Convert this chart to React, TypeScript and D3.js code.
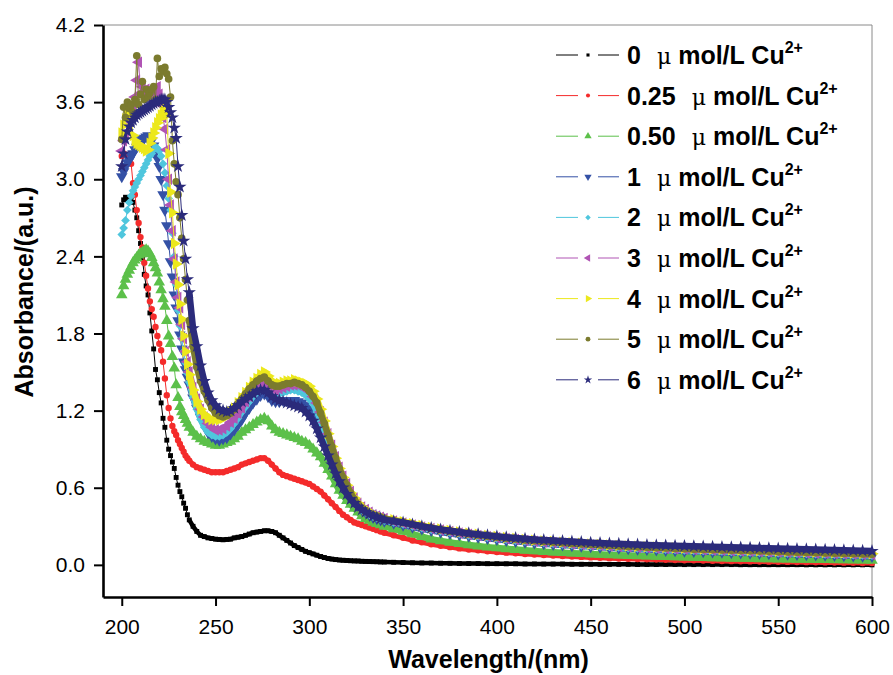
import React, { useRef, useEffect } from "react";
import * as d3 from "d3";

const WIDTH = 893;
const HEIGHT = 675;

// sampling grid: 1 nm in the peak region, 2 nm up to 340 nm, 5 nm in the tail
const wavelengths = [
  ...d3.range(200, 237, 1),
  ...d3.range(238, 341, 2),
  ...d3.range(345, 601, 5),
];

const xTicks = [200, 250, 300, 350, 400, 450, 500, 550, 600];
const yTicks = [0, 0.6, 1.2, 1.8, 2.4, 3.0, 3.6, 4.2];

const labels = ["0", "0.25", "0.50", "1", "2", "3", "4", "5", "6"];
const colors = [
  "#000000",
  "#f42b2b",
  "#5cc04a",
  "#3451a6",
  "#4fc6dd",
  "#b054b4",
  "#ece81c",
  "#7b7b2e",
  "#2b2b7b",
];

// 0 umol/L
const abs0 = [
  2.80, 2.84, 2.86, 2.85, 2.83, 2.86, 2.82, 2.76, 2.70, 2.60,
  2.50, 2.38, 2.26, 2.17, 2.10, 1.96, 1.82, 1.68, 1.52, 1.44,
  1.34, 1.26, 1.14, 1.07, 0.97, 0.90, 0.85, 0.80, 0.75, 0.68,
  0.62, 0.57, 0.53, 0.48, 0.44, 0.39, 0.35,
  0.30, 0.26, 0.23, 0.22, 0.21, 0.205, 0.20, 0.198, 0.195, 0.198,
  0.20, 0.21, 0.215, 0.22, 0.23, 0.24, 0.25, 0.255, 0.26, 0.265,
  0.265, 0.26, 0.25, 0.23, 0.21, 0.19, 0.17, 0.15, 0.135, 0.12,
  0.105, 0.095, 0.085, 0.075, 0.065, 0.057, 0.05, 0.045, 0.041, 0.038,
  0.036, 0.034, 0.032, 0.031, 0.03, 0.028, 0.027, 0.026, 0.025, 0.024,
  0.023, 0.022,
  0.02, 0.018, 0.016, 0.015, 0.014, 0.013, 0.012, 0.011, 0.01, 0.01,
  0.009, 0.009, 0.008, 0.008, 0.007, 0.007, 0.006, 0.006, 0.006, 0.005,
  0.005, 0.005, 0.004, 0.004, 0.004, 0.004, 0.003, 0.003, 0.003, 0.003,
  0.003, 0.002, 0.002, 0.002, 0.002, 0.002, 0.002, 0.001, 0.001, 0.001,
  0.001, 0.001, 0.001, 0.001, 0, 0, 0, 0, 0, 0,
  0, 0,
];

// 0.25 umol/L
const abs1 = [
  3.18, 3.20, 3.19, 3.18, 3.17, 3.12, 2.97, 2.88, 2.76, 2.66,
  2.55, 2.47, 2.35, 2.25, 2.15, 2.05, 1.99, 1.93, 1.85, 1.78,
  1.72, 1.67, 1.58, 1.45, 1.32, 1.22, 1.14, 1.08, 1.04, 1.01,
  0.97, 0.94, 0.91, 0.88, 0.85, 0.83, 0.81,
  0.78, 0.76, 0.75, 0.74, 0.73, 0.72, 0.72, 0.72, 0.72, 0.73,
  0.74, 0.75, 0.76, 0.78, 0.79, 0.80, 0.81, 0.82, 0.83, 0.83,
  0.81, 0.78, 0.75, 0.72, 0.70, 0.69, 0.68, 0.67, 0.66, 0.65,
  0.64, 0.63, 0.61, 0.59, 0.57, 0.54, 0.51, 0.48, 0.45, 0.42,
  0.39, 0.37, 0.35, 0.33, 0.32, 0.31, 0.30, 0.29, 0.28, 0.27,
  0.26, 0.25,
  0.23, 0.21, 0.19, 0.175, 0.16, 0.148, 0.138, 0.128, 0.12, 0.113,
  0.106, 0.10, 0.095, 0.09, 0.085, 0.08, 0.076, 0.072, 0.068, 0.065,
  0.062, 0.058, 0.055, 0.052, 0.05, 0.048, 0.046, 0.044, 0.042, 0.04,
  0.038, 0.036, 0.035, 0.033, 0.032, 0.03, 0.029, 0.028, 0.027, 0.026,
  0.025, 0.024, 0.023, 0.022, 0.021, 0.02, 0.019, 0.018, 0.017, 0.016,
  0.015, 0.014,
];

// 0.50 umol/L
const abs2 = [
  2.10, 2.17, 2.22, 2.26, 2.29, 2.32, 2.35, 2.37, 2.39, 2.41,
  2.42, 2.43, 2.44, 2.45, 2.44, 2.42, 2.39, 2.35, 2.31, 2.27,
  2.20, 2.14, 2.07, 2.01, 1.90, 1.78, 1.72, 1.62, 1.53, 1.40,
  1.30, 1.23, 1.19, 1.16, 1.13, 1.10, 1.07,
  1.03, 1.00, 0.98, 0.96, 0.95, 0.94, 0.93, 0.93, 0.94, 0.95,
  0.96, 0.98, 1.00, 1.03, 1.05, 1.07, 1.09, 1.11, 1.13, 1.14,
  1.12, 1.08, 1.05, 1.03, 1.02, 1.01, 1.00, 0.99, 0.98, 0.96,
  0.95, 0.93, 0.90, 0.87, 0.84, 0.79, 0.74, 0.69, 0.63, 0.58,
  0.54, 0.50, 0.47, 0.44, 0.41, 0.38, 0.36, 0.345, 0.33, 0.32,
  0.31, 0.30,
  0.28, 0.26, 0.24, 0.22, 0.20, 0.187, 0.175, 0.165, 0.155, 0.146,
  0.138, 0.131, 0.125, 0.119, 0.113, 0.108, 0.103, 0.099, 0.095, 0.091,
  0.088, 0.084, 0.081, 0.078, 0.075, 0.072, 0.07, 0.068, 0.066, 0.064,
  0.062, 0.06, 0.058, 0.056, 0.054, 0.053, 0.051, 0.05, 0.048, 0.047,
  0.046, 0.045, 0.044, 0.043, 0.042, 0.041, 0.04, 0.039, 0.038, 0.037,
  0.036, 0.035,
];

// 1 umol/L
const abs3 = [
  3.02, 3.06, 3.10, 3.13, 3.15, 3.18, 3.20, 3.23, 3.25, 3.27,
  3.30, 3.31, 3.32, 3.33, 3.34, 3.33, 3.30, 3.26, 3.21, 3.16,
  3.10, 3.00, 2.88, 2.76, 2.64, 2.50, 2.36, 2.24, 2.10, 2.00,
  1.90, 1.79, 1.68, 1.58, 1.52, 1.46, 1.40,
  1.30, 1.22, 1.15, 1.09, 1.03, 1.00, 0.98, 0.97, 0.98, 0.99,
  1.02, 1.05, 1.09, 1.13, 1.18, 1.22, 1.26, 1.29, 1.32, 1.33,
  1.31, 1.28, 1.27, 1.27, 1.28, 1.28, 1.28, 1.28, 1.27, 1.26,
  1.24, 1.21, 1.17, 1.12, 1.06, 0.99, 0.92, 0.84, 0.77, 0.70,
  0.64, 0.58, 0.53, 0.49, 0.46, 0.43, 0.41, 0.39, 0.37, 0.36,
  0.35, 0.34,
  0.325, 0.31, 0.295, 0.281, 0.268, 0.256, 0.245, 0.235, 0.225, 0.216,
  0.207, 0.199, 0.191, 0.184, 0.177, 0.171, 0.165, 0.16, 0.155, 0.15,
  0.146, 0.142, 0.138, 0.134, 0.13, 0.126, 0.123, 0.12, 0.117, 0.114,
  0.111, 0.108, 0.105, 0.103, 0.101, 0.099, 0.096, 0.094, 0.092, 0.09,
  0.088, 0.086, 0.084, 0.082, 0.08, 0.078, 0.076, 0.074, 0.072, 0.07,
  0.068, 0.066,
];

// 2 umol/L
const abs4 = [
  2.57, 2.62, 2.68, 2.76, 2.82, 2.87, 2.91, 2.94, 2.97, 3.00,
  3.03, 3.06, 3.09, 3.12, 3.15, 3.18, 3.20, 3.23, 3.25, 3.24,
  3.22, 3.18, 3.12, 3.05, 2.95, 2.85, 2.76, 2.58, 2.40, 2.18,
  1.98, 1.86, 1.76, 1.66, 1.57, 1.49, 1.42,
  1.30, 1.21, 1.13, 1.07, 1.03, 1.01, 1.00, 1.00, 1.01, 1.03,
  1.06, 1.10, 1.14, 1.19, 1.23, 1.27, 1.31, 1.34, 1.37, 1.38,
  1.36, 1.33, 1.32, 1.33, 1.34, 1.35, 1.36, 1.36, 1.35, 1.34,
  1.32, 1.29, 1.25, 1.19, 1.12, 1.04, 0.95, 0.86, 0.78, 0.71,
  0.64, 0.58, 0.53, 0.49, 0.46, 0.43, 0.41, 0.39, 0.375, 0.365,
  0.355, 0.345,
  0.33, 0.315, 0.30, 0.286, 0.273, 0.261, 0.25, 0.24, 0.23, 0.221,
  0.212, 0.204, 0.196, 0.189, 0.182, 0.176, 0.17, 0.165, 0.16, 0.155,
  0.151, 0.147, 0.143, 0.139, 0.135, 0.131, 0.128, 0.125, 0.122, 0.119,
  0.116, 0.113, 0.11, 0.108, 0.106, 0.104, 0.101, 0.099, 0.097, 0.095,
  0.093, 0.091, 0.089, 0.087, 0.085, 0.083, 0.081, 0.079, 0.077, 0.075,
  0.073, 0.071,
];

// 3 umol/L
const abs5 = [
  3.22, 3.30, 3.36, 3.42, 3.47, 3.52, 3.58, 3.64, 3.77, 3.91,
  3.67, 3.72, 3.66, 3.70, 3.64, 3.68, 3.66, 3.70, 3.71, 3.72,
  3.66, 3.58, 3.48, 3.39, 3.23, 3.00, 2.80, 2.60, 2.38, 2.20,
  2.08, 2.00, 1.87, 1.76, 1.66, 1.58, 1.50,
  1.38, 1.29, 1.21, 1.15, 1.10, 1.07, 1.05, 1.05, 1.06, 1.08,
  1.11, 1.14, 1.18, 1.22, 1.27, 1.31, 1.35, 1.38, 1.41, 1.42,
  1.40, 1.37, 1.36, 1.37, 1.38, 1.39, 1.40, 1.40, 1.40, 1.39,
  1.37, 1.35, 1.31, 1.26, 1.19, 1.11, 1.02, 0.93, 0.84, 0.76,
  0.69, 0.63, 0.57, 0.52, 0.48, 0.45, 0.43, 0.41, 0.39, 0.38,
  0.37, 0.36,
  0.34, 0.325, 0.31, 0.295, 0.282, 0.27, 0.259, 0.248, 0.238, 0.229,
  0.22, 0.212, 0.204, 0.197, 0.19, 0.184, 0.178, 0.173, 0.168, 0.163,
  0.159, 0.155, 0.151, 0.147, 0.143, 0.139, 0.136, 0.133, 0.13, 0.127,
  0.124, 0.121, 0.118, 0.116, 0.114, 0.112, 0.109, 0.107, 0.105, 0.103,
  0.101, 0.099, 0.097, 0.095, 0.093, 0.091, 0.089, 0.087, 0.085, 0.083,
  0.081, 0.079,
];

// 4 umol/L
const abs6 = [
  3.36, 3.42, 3.47, 3.50, 3.53, 3.50, 3.34, 3.30, 3.28, 3.27,
  3.26, 3.25, 3.24, 3.22, 3.23, 3.28, 3.32, 3.36, 3.40, 3.44,
  3.47, 3.50, 3.53, 3.55, 3.50, 3.20, 2.90, 2.74, 2.50, 2.34,
  2.18, 2.03, 1.91, 1.78, 1.66, 1.56, 1.48,
  1.36, 1.27, 1.21, 1.17, 1.14, 1.13, 1.13, 1.13, 1.14, 1.16,
  1.19, 1.22, 1.26, 1.30, 1.34, 1.38, 1.42, 1.45, 1.48, 1.50,
  1.47, 1.43, 1.41, 1.41, 1.42, 1.43, 1.43, 1.44, 1.43, 1.42,
  1.41, 1.39, 1.35, 1.29, 1.21, 1.12, 1.02, 0.92, 0.83, 0.75,
  0.68, 0.62, 0.56, 0.52, 0.48, 0.45, 0.43, 0.41, 0.395, 0.38,
  0.37, 0.36,
  0.35, 0.335, 0.32, 0.305, 0.29, 0.278, 0.267, 0.256, 0.246, 0.237,
  0.228, 0.22, 0.212, 0.205, 0.198, 0.192, 0.186, 0.181, 0.176, 0.171,
  0.167, 0.163, 0.159, 0.155, 0.151, 0.147, 0.144, 0.141, 0.138, 0.135,
  0.132, 0.129, 0.126, 0.123, 0.121, 0.119, 0.117, 0.114, 0.112, 0.11,
  0.108, 0.106, 0.104, 0.102, 0.1, 0.098, 0.096, 0.094, 0.092, 0.09,
  0.088, 0.086,
];

// 5 umol/L
const abs7 = [
  3.31, 3.56, 3.48, 3.60, 3.55, 3.58, 3.52, 3.62, 3.96, 3.58,
  3.66, 3.76, 3.62, 3.70, 3.64, 3.67, 3.70, 3.72, 3.62, 3.94,
  3.80, 3.86, 3.84, 3.87, 3.82, 3.78, 3.64, 3.30, 3.12, 2.98,
  2.88, 2.70, 2.54, 2.38, 2.22, 2.06, 1.90,
  1.70, 1.54, 1.43, 1.35, 1.28, 1.22, 1.18, 1.16, 1.15, 1.16,
  1.18, 1.21, 1.25, 1.29, 1.33, 1.37, 1.40, 1.43, 1.45, 1.46,
  1.43, 1.40, 1.39, 1.39, 1.40, 1.41, 1.41, 1.42, 1.41, 1.40,
  1.38, 1.35, 1.31, 1.26, 1.18, 1.10, 1.01, 0.92, 0.83, 0.75,
  0.68, 0.62, 0.56, 0.51, 0.47, 0.44, 0.42, 0.40, 0.39, 0.38,
  0.37, 0.36,
  0.345, 0.33, 0.315, 0.30, 0.286, 0.274, 0.263, 0.252, 0.242, 0.233,
  0.224, 0.216, 0.208, 0.201, 0.194, 0.188, 0.182, 0.177, 0.172, 0.167,
  0.163, 0.159, 0.155, 0.151, 0.147, 0.143, 0.14, 0.137, 0.134, 0.131,
  0.128, 0.125, 0.122, 0.12, 0.118, 0.116, 0.113, 0.111, 0.109, 0.107,
  0.105, 0.103, 0.101, 0.099, 0.097, 0.095, 0.093, 0.091, 0.089, 0.087,
  0.085, 0.083,
];

// 6 umol/L
const abs8 = [
  3.10, 3.20, 3.31, 3.37, 3.41, 3.44, 3.46, 3.48, 3.50, 3.51,
  3.52, 3.53, 3.54, 3.55, 3.56, 3.57, 3.58, 3.59, 3.60, 3.60,
  3.61, 3.62, 3.62, 3.62, 3.60, 3.56, 3.52, 3.48, 3.40, 3.32,
  3.10, 2.94, 2.72, 2.52, 2.38, 2.22, 2.12,
  1.84, 1.70, 1.55, 1.43, 1.34, 1.28, 1.24, 1.21, 1.20, 1.19,
  1.20, 1.22, 1.24, 1.27, 1.29, 1.31, 1.33, 1.35, 1.36, 1.36,
  1.34, 1.31, 1.29, 1.28, 1.27, 1.26, 1.25, 1.24, 1.23, 1.22,
  1.19, 1.16, 1.12, 1.06, 0.99, 0.92, 0.85, 0.78, 0.71, 0.65,
  0.60, 0.55, 0.51, 0.48, 0.45, 0.43, 0.41, 0.395, 0.38, 0.37,
  0.36, 0.35,
  0.34, 0.33, 0.315, 0.30, 0.287, 0.276, 0.265, 0.255, 0.246, 0.238,
  0.23, 0.222, 0.215, 0.209, 0.203, 0.198, 0.193, 0.189, 0.185, 0.181,
  0.177, 0.173, 0.17, 0.167, 0.164, 0.161, 0.158, 0.155, 0.153, 0.151,
  0.149, 0.147, 0.145, 0.143, 0.141, 0.139, 0.137, 0.135, 0.133, 0.131,
  0.129, 0.127, 0.125, 0.123, 0.121, 0.119, 0.117, 0.115, 0.113, 0.111,
  0.109, 0.107,
];

const seriesValues = [abs0, abs1, abs2, abs3, abs4, abs5, abs6, abs7, abs8];

// marker type, size in the plot, rotation, width of the dense-marker band
const markers = [
  { type: d3.symbolSquare, size: 24, rot: 0, band: 4.5 },
  { type: d3.symbolCircle, size: 32, rot: 0, band: 5 },
  { type: d3.symbolTriangle, size: 58, rot: 0, band: 6.5 },
  { type: d3.symbolTriangle, size: 58, rot: 180, band: 6.5 },
  { type: d3.symbolSquare, size: 38, rot: 45, band: 6 },
  { type: d3.symbolTriangle, size: 58, rot: -90, band: 6.5 },
  { type: d3.symbolTriangle, size: 58, rot: 90, band: 6.5 },
  { type: d3.symbolCircle, size: 46, rot: 0, band: 6.5 },
  { type: d3.symbolStar, size: 55, rot: 0, band: 6.5 },
];

const FONT = "'Liberation Sans', Arial, sans-serif";

const Chart = () => {
  const ref = useRef(null);

  useEffect(() => {
    const svg = d3.select(ref.current);
    svg.selectAll("*").remove();

    const left = 103;
    const right = 872;
    const top = 25;
    const bottom = 597;

    const xScale = d3.scaleLinear().domain([190, 600]).range([left, right]);
    const yScale = d3.scaleLinear().domain([-0.25, 4.2]).range([bottom, top]);

    // thin frame on top and right
    svg.append("path")
      .attr("d", `M${left},${top}H${right}V${bottom}`)
      .attr("fill", "none")
      .attr("stroke", "#8a8a8a")
      .attr("stroke-width", 1);

    const lineGen = d3.line()
      .x((d) => xScale(d[0]))
      .y((d) => yScale(d[1]));

    // curves, drawn in legend order so later series sit on top
    seriesValues.forEach((vals, i) => {
      const pts = wavelengths.map((w, k) => [w, vals[k]]);
      const m = markers[i];
      const g = svg.append("g");
      g.append("path")
        .datum(pts)
        .attr("fill", "none")
        .attr("stroke", colors[i])
        .attr("stroke-width", 1)
        .attr("d", lineGen);
      // the original's 1 nm markers merge into a solid band on the smooth part
      g.append("path")
        .datum(pts.filter((d) => d[0] >= 236))
        .attr("fill", "none")
        .attr("stroke", colors[i])
        .attr("stroke-width", m.band)
        .attr("stroke-linejoin", "round")
        .attr("d", lineGen);
      const sym = d3.symbol().type(m.type).size(m.size)();
      g.selectAll("path.mk")
        .data(pts)
        .join("path")
        .attr("class", "mk")
        .attr("d", sym)
        .attr("fill", colors[i])
        .attr(
          "transform",
          (d) => `translate(${xScale(d[0])},${yScale(d[1])}) rotate(${m.rot})`
        );
    });

    // axes
    const xAxis = d3.axisBottom(xScale)
      .tickValues(xTicks)
      .tickSize(9)
      .tickSizeOuter(0)
      .tickPadding(13);
    const yAxis = d3.axisLeft(yScale)
      .tickValues(yTicks)
      .tickFormat(d3.format(".1f"))
      .tickSize(9)
      .tickSizeOuter(0)
      .tickPadding(9);

    const gx = svg.append("g")
      .attr("transform", `translate(0,${bottom})`)
      .call(xAxis);
    const gy = svg.append("g")
      .attr("transform", `translate(${left},0)`)
      .call(yAxis);

    [gx, gy].forEach((g) => {
      g.select(".domain").attr("stroke", "#000").attr("stroke-width", 2.6);
      g.selectAll(".tick line").attr("stroke", "#000").attr("stroke-width", 2);
      g.selectAll(".tick text")
        .attr("fill", "#000")
        .style("font-family", FONT)
        .style("font-size", "21px");
    });

    // axis titles
    svg.append("text")
      .attr("x", (left + right) / 2 + 1)
      .attr("y", 668)
      .attr("text-anchor", "middle")
      .style("font-family", FONT)
      .style("font-weight", "bold")
      .style("font-size", "25px")
      .text("Wavelength/(nm)");

    svg.append("text")
      .attr("transform", "rotate(-90)")
      .attr("x", -292)
      .attr("y", 33)
      .attr("text-anchor", "middle")
      .style("font-family", FONT)
      .style("font-weight", "bold")
      .style("font-size", "25px")
      .text("Absorbance/(a.u.)");

    // legend
    const legend = svg.append("g");
    labels.forEach((lab, i) => {
      const yy = 55 + i * 40.6;
      const row = legend.append("g");
      row.append("line")
        .attr("x1", 556).attr("x2", 578)
        .attr("y1", yy).attr("y2", yy)
        .attr("stroke", colors[i]).attr("stroke-width", 1);
      row.append("line")
        .attr("x1", 598).attr("x2", 619)
        .attr("y1", yy).attr("y2", yy)
        .attr("stroke", colors[i]).attr("stroke-width", 1);
      const m = markers[i];
      row.append("path")
        .attr("d", d3.symbol().type(m.type).size(m.size * 0.4)())
        .attr("fill", colors[i])
        .attr("transform", `translate(588,${yy}) rotate(${m.rot})`);

      const t = row.append("text")
        .attr("x", 627)
        .attr("y", yy + 9)
        .style("white-space", "pre")
        .style("font-family", FONT)
        .style("font-weight", "bold")
        .style("font-size", "25px")
        .attr("fill", "#000");
      t.append("tspan").text(lab);
      t.append("tspan")
        .attr("dx", 16)
        .style("font-family", "'DejaVu Serif', serif")
        .style("font-weight", "normal")
        .style("font-size", "22px")
        .text("\u03bc");
      t.append("tspan").text(" mol/L Cu");
      t.append("tspan")
        .attr("dy", -11)
        .style("font-size", "16px")
        .text("2+");
    });
  }, []);

  return (
    <svg
      ref={ref}
      width={WIDTH}
      height={HEIGHT}
      style={{ position: "absolute", left: 0, top: 0, background: "#fff" }}
    />
  );
};

export default function App() {
  return <Chart />;
}
